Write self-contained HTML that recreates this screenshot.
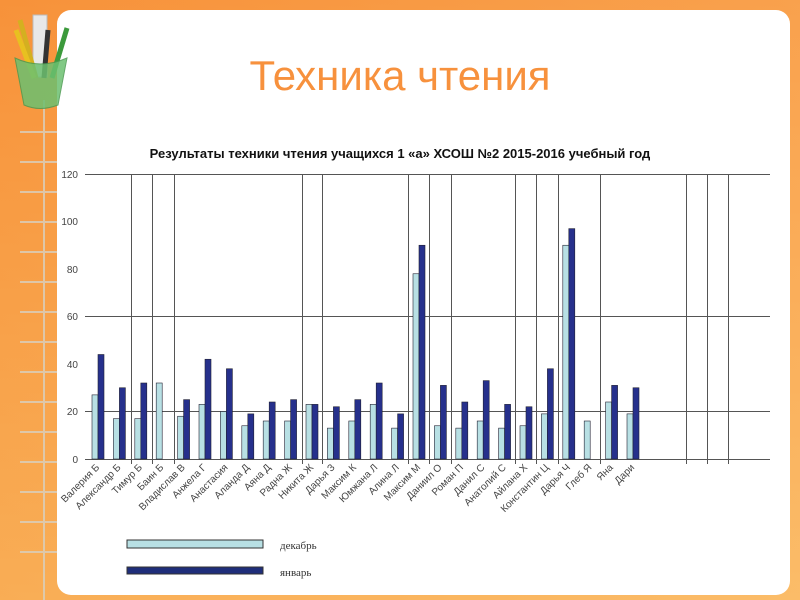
<!DOCTYPE html>
<html><head><meta charset="utf-8"><style>
body{margin:0;width:800px;height:600px;overflow:hidden;background:linear-gradient(180deg,#f7923a 0%,#f9a850 40%,#fbc870 100%);font-family:"Liberation Sans",sans-serif}
</style></head><body>
<svg width="800" height="600" style="position:absolute;left:0;top:0">
<defs><linearGradient id="lg" x1="0" y1="0" x2="1" y2="0"><stop offset="0" stop-color="#f7923a"/><stop offset="1" stop-color="#fbb060"/></linearGradient></defs>
<rect x="0" y="0" width="800" height="600" fill="url(#lg)" opacity="0.5"/>
<g stroke="#d8d0c0" stroke-width="2" opacity="0.8">
<line x1="44" y1="100" x2="44" y2="600"/>
<line x1="20" y1="132" x2="60" y2="132"/><line x1="20" y1="162" x2="60" y2="162"/><line x1="20" y1="192" x2="60" y2="192"/>
<line x1="20" y1="222" x2="60" y2="222"/><line x1="20" y1="252" x2="60" y2="252"/><line x1="20" y1="282" x2="60" y2="282"/>
<line x1="20" y1="312" x2="60" y2="312"/><line x1="20" y1="342" x2="60" y2="342"/><line x1="20" y1="372" x2="60" y2="372"/>
<line x1="20" y1="402" x2="60" y2="402"/><line x1="20" y1="432" x2="60" y2="432"/><line x1="20" y1="462" x2="60" y2="462"/>
<line x1="20" y1="492" x2="60" y2="492"/><line x1="20" y1="522" x2="60" y2="522"/><line x1="20" y1="552" x2="60" y2="552"/>
</g>
<rect x="57" y="10" width="733" height="585" rx="14" fill="#fff"/>
<!-- cup -->
<rect x="33" y="15" width="14" height="62" fill="#e8e8e8" stroke="#bbb"/>
<line x1="20" y1="20" x2="36" y2="78" stroke="#d4b020" stroke-width="5"/>
<line x1="16" y1="30" x2="34" y2="78" stroke="#e8c020" stroke-width="5"/>
<line x1="48" y1="30" x2="44" y2="78" stroke="#333" stroke-width="5"/>
<line x1="67" y1="28" x2="52" y2="78" stroke="#3c9a3c" stroke-width="5"/>
<path d="M15 58 Q40 70 67 58 L58 105 Q40 112 24 105 Z" fill="#6cc070" opacity="0.85" stroke="#4a9a50"/>
<text x="400" y="90" font-size="42" fill="#f7913d" text-anchor="middle">Техника чтения</text>
<text x="400" y="158" font-size="13" font-weight="bold" fill="#111" text-anchor="middle">Результаты техники чтения учащихся 1 «а» ХСОШ №2 2015-2016 учебный год</text>
<g font-size="10" fill="#444" text-anchor="end">
<text x="78" y="178">120</text><text x="78" y="225">100</text><text x="78" y="273">80</text><text x="78" y="320">60</text><text x="78" y="368">40</text><text x="78" y="415">20</text><text x="78" y="463">0</text>
</g>
<g stroke="#555" stroke-width="1">
<line x1="85" y1="174.5" x2="770" y2="174.5"/><line x1="85" y1="316.5" x2="770" y2="316.5"/><line x1="85" y1="411.5" x2="770" y2="411.5"/><line x1="85" y1="459.5" x2="770" y2="459.5"/>
<line x1="131.5" y1="174" x2="131.5" y2="464"/><line x1="152.5" y1="174" x2="152.5" y2="464"/><line x1="174.5" y1="174" x2="174.5" y2="464"/>
<line x1="302.5" y1="174" x2="302.5" y2="464"/><line x1="322.5" y1="174" x2="322.5" y2="464"/><line x1="408.5" y1="174" x2="408.5" y2="464"/>
<line x1="429.5" y1="174" x2="429.5" y2="464"/><line x1="451.5" y1="174" x2="451.5" y2="464"/><line x1="515.5" y1="174" x2="515.5" y2="464"/>
<line x1="536.5" y1="174" x2="536.5" y2="464"/><line x1="558.5" y1="174" x2="558.5" y2="464"/><line x1="600.5" y1="174" x2="600.5" y2="464"/>
<line x1="686.5" y1="174" x2="686.5" y2="464"/><line x1="707.5" y1="174" x2="707.5" y2="464"/><line x1="728.5" y1="174" x2="728.5" y2="464"/>
</g>
<g id="bars"></g>
<g id="labels" font-size="10" fill="#444" text-anchor="end"></g>
<rect x="127" y="540" width="136" height="8" fill="#b8e0e4" stroke="#333"/>
<text x="280" y="549" font-family="Liberation Serif,serif" font-size="11" fill="#333">декабрь</text>
<rect x="127" y="567" width="136" height="7" fill="#1f2e7a" stroke="#333"/>
<text x="280" y="576" font-family="Liberation Serif,serif" font-size="11" fill="#333">январь</text>
</svg>
<script>
var d=[["Валерия Б",27,44],["Александр Б",17,30],["Тимур Б",17,32],["Баин Б",32,0],["Владислав В",18,25],["Анжела Г",23,42],["Анастасия",20,38],["Аланда Д",14,19],["Аяна Д",16,24],["Радна Ж",16,25],["Никита Ж",23,23],["Дарья З",13,22],["Максим К",16,25],["Юмжана Л",23,32],["Алина Л",13,19],["Максим М",78,90],["Даниил О",14,31],["Роман П",13,24],["Данил С",16,33],["Анатолий С",13,23],["Айлана Х",14,22],["Константин Ц",19,38],["Дарья Ч",90,97],["Глеб Я",16,0],["Яна",24,31],["Дари",19,30]];
var ns="http://www.w3.org/2000/svg",b=document.getElementById("bars"),l=document.getElementById("labels");
d.forEach(function(r,i){var x=85+21.4*i+7;
function bar(xx,v,f){if(!v)return;var e=document.createElementNS(ns,"rect");var h=v*2.375;e.setAttribute("x",xx);e.setAttribute("y",459-h);e.setAttribute("width",6);e.setAttribute("height",h);e.setAttribute("fill",f);e.setAttribute("stroke","#223");e.setAttribute("stroke-width","0.6");b.appendChild(e);}
bar(x,r[1],"#b8e0e4");bar(x+6,r[2],"#26308c");
var t=document.createElementNS(ns,"text");var cx=x+8,cy=468;t.setAttribute("x",cx);t.setAttribute("y",cy);t.setAttribute("transform","rotate(-45 "+cx+" "+cy+")");t.textContent=r[0];l.appendChild(t);});
</script>
</body></html>
